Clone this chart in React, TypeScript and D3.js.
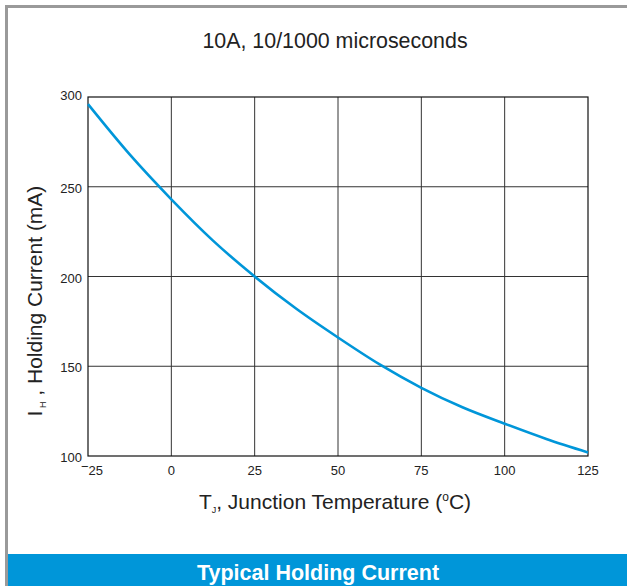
import React, { useEffect, useRef } from 'react';
import * as d3 from 'd3';

const temps = [-25, -12.5, 0, 12.5, 25, 37.5, 50, 62.5, 75, 87.5, 100, 112.5, 125];
const holding = [296, 268, 243, 220, 200, 182, 166, 151, 138, 127, 118, 109.5, 102];
const xTicks = [-25, 0, 25, 50, 75, 100, 125];
const yTicks = [100, 150, 200, 250, 300];

const W = 627;
const H = 586;
const FONT = '"Liberation Sans", Arial, Helvetica, sans-serif';
const BLUE = '#0096d9';

const App: React.FC = () => {
  const svgRef = useRef<SVGSVGElement>(null);

  useEffect(() => {
    if (!svgRef.current) return;
    const svg = d3.select(svgRef.current);
    svg.selectAll('*').remove();

    const left = 88, right = 588, top = 97, bottom = 456;

    const x = d3.scaleLinear().domain([-25, 125]).range([left, right]);
    const y = d3.scaleLinear().domain([100, 300]).range([bottom, top]);

    // background + frame
    svg.append('rect').attr('width', W).attr('height', H).attr('fill', '#fff');
    svg.append('path')
      .attr('d', `M6.5,${H} V6.5 H${W}`)
      .attr('fill', 'none')
      .attr('stroke', '#9a9a9a')
      .attr('stroke-width', 3);

    // title
    svg.append('text')
      .attr('x', 335).attr('y', 48)
      .attr('text-anchor', 'middle')
      .attr('font-family', FONT)
      .attr('font-size', 21.4)
      .attr('fill', '#222')
      .text('10A, 10/1000 microseconds');

    // grid
    const grid = svg.append('g');
    xTicks.slice(1, -1).forEach(t => {
      grid.append('line')
        .attr('x1', x(t)).attr('x2', x(t))
        .attr('y1', top).attr('y2', bottom)
        .attr('stroke', '#333').attr('stroke-width', 1);
    });
    yTicks.slice(1, -1).forEach(t => {
      grid.append('line')
        .attr('x1', left).attr('x2', right)
        .attr('y1', y(t)).attr('y2', y(t))
        .attr('stroke', '#333').attr('stroke-width', 1);
    });
    svg.append('rect')
      .attr('x', left).attr('y', top)
      .attr('width', right - left).attr('height', bottom - top)
      .attr('fill', 'none')
      .attr('stroke', '#111').attr('stroke-width', 1.2);

    // curve
    const line = d3.line<number>()
      .x((_, i) => x(temps[i]))
      .y(d => y(d))
      .curve(d3.curveMonotoneX);
    svg.append('path')
      .datum(holding)
      .attr('d', line)
      .attr('fill', 'none')
      .attr('stroke', BLUE)
      .attr('stroke-width', 2.6);

    // x tick labels
    xTicks.forEach(t => {
      const txt = svg.append('text')
        .attr('x', x(t) + (t === -25 ? 4 : 0)).attr('y', 475)
        .attr('text-anchor', 'middle')
        .attr('font-family', FONT)
        .attr('font-size', 13)
        .attr('fill', '#222');
      if (t < 0) {
        txt.append('tspan').attr('dy', -4).text('\u2212');
        txt.append('tspan').attr('dy', 4).text(String(Math.abs(t)));
      } else {
        txt.text(String(t));
      }
    });

    // y tick labels
    yTicks.forEach(t => {
      svg.append('text')
        .attr('x', 82).attr('y', y(t) + (t === 300 ? 3 : 6))
        .attr('text-anchor', 'end')
        .attr('font-family', FONT)
        .attr('font-size', 13)
        .attr('fill', '#222')
        .text(String(t));
    });

    // x axis title
    const xt = svg.append('text')
      .attr('x', 335).attr('y', 509)
      .attr('text-anchor', 'middle')
      .attr('font-family', FONT)
      .attr('font-size', 21)
      .attr('fill', '#222');
    xt.append('tspan').text('T');
    xt.append('tspan').attr('font-size', 9).attr('dy', 4).text('J');
    xt.append('tspan').attr('dy', -4).text(', Junction Temperature (');
    xt.append('tspan').attr('font-size', 12).attr('dy', -8).text('o');
    xt.append('tspan').attr('dy', 8).text('C)');

    // y axis title
    const yt = svg.append('text')
      .attr('transform', `translate(42, 301) rotate(-90)`)
      .attr('text-anchor', 'middle')
      .attr('font-family', FONT)
      .attr('font-size', 21)
      .attr('fill', '#222');
    yt.append('tspan').text('I');
    yt.append('tspan').attr('font-size', 9).attr('dy', 4).text('  H');
    yt.append('tspan').attr('dy', -4).text(' , Holding Current (mA)');

    // bottom banner
    svg.append('rect')
      .attr('x', 8).attr('y', 554)
      .attr('width', W - 8).attr('height', H - 554)
      .attr('fill', BLUE);
    svg.append('text')
      .attr('x', 318).attr('y', 580)
      .attr('text-anchor', 'middle')
      .attr('font-family', FONT)
      .attr('font-size', 21.5)
      .attr('font-weight', 'bold')
      .attr('fill', '#fff')
      .text('Typical Holding Current');
  }, []);

  return (
    <svg
      ref={svgRef}
      width={W}
      height={H}
      style={{ position: 'absolute', left: 0, top: 0, display: 'block' }}
    />
  );
};

export default App;
